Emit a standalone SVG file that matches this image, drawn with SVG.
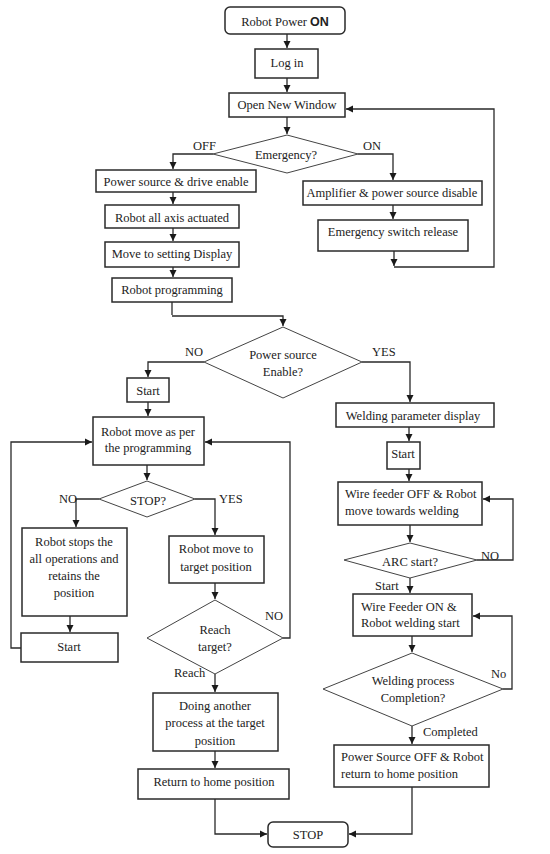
<svg xmlns="http://www.w3.org/2000/svg" width="550" height="854" viewBox="0 0 550 854" font-family="'Liberation Serif', Tinos, 'Times New Roman', 'DejaVu Serif', serif">
<style>
text{font-family:'Liberation Serif',Tinos,'Times New Roman','DejaVu Serif',serif;font-size:12.5px;fill:#222}
.c{text-anchor:middle}
.b{fill:#fff;stroke:#2a2a2a;stroke-width:1.5}
.d{fill:#fff;stroke:#444;stroke-width:1}
.l{fill:none;stroke:#2a2a2a;stroke-width:1.3}
.on{font-family:'Liberation Sans',Arial,sans-serif;font-weight:bold;font-size:12.5px}
</style>
<defs>
<marker id="a" markerWidth="8" markerHeight="8" refX="7" refY="4" orient="auto" markerUnits="userSpaceOnUse">
<path d="M0,0.5 L7,4 L0,7.5 Z" fill="#1a1a1a"/>
</marker>
</defs>
<g id="connectors">
<path class="l" d="M287,34 V48" marker-end="url(#a)"/>
<path class="l" d="M287,78 V92" marker-end="url(#a)"/>
<path class="l" d="M287,117 V134" marker-end="url(#a)"/>
<path class="l" d="M213,154 H173 V169" marker-end="url(#a)"/>
<path class="l" d="M358,154 H393 V180" marker-end="url(#a)"/>
<path class="l" d="M173,192 V204" marker-end="url(#a)"/>
<path class="l" d="M173,228 V241" marker-end="url(#a)"/>
<path class="l" d="M173,267 V277" marker-end="url(#a)"/>
<path class="l" d="M393,205 V219" marker-end="url(#a)"/>
<path class="l" d="M394,251 V266" marker-end="url(#a)"/>
<path class="l" d="M394,267 H494 V109 H346" marker-end="url(#a)"/>
<path class="l" d="M172,302 V315"/>
<path class="l" d="M172,316 H283 V326" marker-end="url(#a)"/>
<path class="l" d="M204,362 H148 V377" marker-end="url(#a)"/>
<path class="l" d="M362,362 H410 V402" marker-end="url(#a)"/>
<path class="l" d="M148,402 V416" marker-end="url(#a)"/>
<path class="l" d="M409,427 V441" marker-end="url(#a)"/>
<path class="l" d="M409,469 V481" marker-end="url(#a)"/>
<path class="l" d="M147,465 V480" marker-end="url(#a)"/>
<path class="l" d="M99,499 H76 V527" marker-end="url(#a)"/>
<path class="l" d="M195,499 H215 V535" marker-end="url(#a)"/>
<path class="l" d="M70,616 V632" marker-end="url(#a)"/>
<path class="l" d="M21,648 H11 V442 H92" marker-end="url(#a)"/>
<path class="l" d="M215,583 V599" marker-end="url(#a)"/>
<path class="l" d="M283,638 H290 V442 H205" marker-end="url(#a)"/>
<path class="l" d="M215,674 V692" marker-end="url(#a)"/>
<path class="l" d="M215,751 V768" marker-end="url(#a)"/>
<path class="l" d="M215,799 V834 H267" marker-end="url(#a)"/>
<path class="l" d="M410,525 V542" marker-end="url(#a)"/>
<path class="l" d="M477,560 H513 V499 H483" marker-end="url(#a)"/>
<path class="l" d="M410,578 V593" marker-end="url(#a)"/>
<path class="l" d="M412,636 V652" marker-end="url(#a)"/>
<path class="l" d="M503,689 H512 V616 H473" marker-end="url(#a)"/>
<path class="l" d="M412,726 V744" marker-end="url(#a)"/>
<path class="l" d="M412,787 V834 H349" marker-end="url(#a)"/>
</g>
<g id="n-power-on"><rect class="b" x="225" y="7" width="120" height="27" rx="5" stroke-width="1"/><text class="c" x="285" y="26">Robot Power <tspan class="on">ON</tspan></text></g>
<g id="n-login"><rect class="b" x="255" y="49" width="63" height="29"/><text class="c" x="287" y="67">Log in</text></g>
<g id="n-open"><rect class="b" x="229" y="93" width="116" height="24"/><text class="c" x="287" y="109">Open New Window</text></g>
<g id="n-emergency"><polygon class="d" points="287,135 358,154 287,173 213,154"/><text class="c" x="286" y="159">Emergency?</text></g>
<text x="193" y="150">OFF</text>
<text x="363" y="150">ON</text>
<g id="n-drive"><rect class="b" x="96" y="170" width="160" height="22"/><text class="c" x="176" y="186">Power source &amp; drive enable</text></g>
<g id="n-axis"><rect class="b" x="105" y="205" width="134" height="23"/><text class="c" x="172" y="222">Robot all axis actuated</text></g>
<g id="n-display"><rect class="b" x="105" y="242" width="134" height="25"/><text class="c" x="172" y="258">Move to setting Display</text></g>
<g id="n-prog"><rect class="b" x="112" y="278" width="120" height="24"/><text class="c" x="172" y="294">Robot programming</text></g>
<g id="n-amp"><rect class="b" x="303" y="181" width="179" height="24"/><text class="c" x="392" y="197">Amplifier &amp; power source disable</text></g>
<g id="n-release"><rect class="b" x="318" y="220" width="150" height="31"/><text class="c" x="393" y="236">Emergency switch release</text></g>
<g id="n-ps-enable"><polygon class="d" points="283,327 362,362 283,398 204,362"/><text class="c" x="283" y="359">Power source</text><text class="c" x="283" y="376">Enable?</text></g>
<text x="185" y="356">NO</text>
<text x="372" y="356">YES</text>
<g id="n-start1"><rect class="b" x="127" y="378" width="42" height="24"/><text class="c" x="148" y="395">Start</text></g>
<g id="n-move"><rect class="b" x="93" y="417" width="111" height="48"/><text class="c" x="148" y="436">Robot move as per</text><text class="c" x="148" y="452">the programming</text></g>
<g id="n-weld-param"><rect class="b" x="336" y="403" width="158" height="24"/><text class="c" x="413" y="420">Welding parameter display</text></g>
<g id="n-start2"><rect class="b" x="387" y="442" width="33" height="27"/><text class="c" x="403" y="458">Start</text></g>
<g id="n-stop-q"><polygon class="d" points="147,481 195,499 147,517 99,499"/><text class="c" x="148" y="505">STOP?</text></g>
<text x="59" y="503">NO</text>
<text x="219" y="503">YES</text>
<g id="n-stops"><rect class="b" x="22" y="528" width="105" height="88"/><text class="c" x="74" y="546">Robot stops the</text><text class="c" x="74" y="563">all operations and</text><text class="c" x="74" y="580">retains the</text><text class="c" x="74" y="597">position</text></g>
<g id="n-start3"><rect class="b" x="21" y="633" width="97" height="29"/><text class="c" x="69" y="651">Start</text></g>
<g id="n-target"><rect class="b" x="169" y="536" width="95" height="47"/><text class="c" x="216" y="553">Robot move to</text><text class="c" x="216" y="571">target position</text></g>
<g id="n-reach"><polygon class="d" points="215,600 283,638 215,674 147,638"/><text class="c" x="215" y="634">Reach</text><text class="c" x="215" y="651">target?</text></g>
<text x="265" y="620">NO</text>
<text x="174" y="677">Reach</text>
<g id="n-another"><rect class="b" x="153" y="693" width="125" height="58"/><text class="c" x="215" y="710">Doing another</text><text class="c" x="215" y="727">process at the target</text><text class="c" x="215" y="745">position</text></g>
<g id="n-home"><rect class="b" x="138" y="769" width="151" height="30"/><text class="c" x="214" y="786">Return to home position</text></g>
<g id="n-wire-off"><rect class="b" x="338" y="482" width="144" height="43"/><text x="345" y="498">Wire feeder OFF &amp; Robot</text><text x="345" y="515">move towards welding</text></g>
<g id="n-arc"><polygon class="d" points="410,543 477,560 410,578 344,560"/><text class="c" x="410" y="566">ARC start?</text></g>
<text x="481" y="560">NO</text>
<text x="375" y="590">Start</text>
<g id="n-wire-on"><rect class="b" x="353" y="594" width="119" height="42"/><text x="361" y="611">Wire Feeder ON &amp;</text><text x="361" y="627">Robot welding start</text></g>
<g id="n-complete"><polygon class="d" points="412,653 503,689 412,726 323,689"/><text class="c" x="413" y="685">Welding process</text><text class="c" x="413" y="702">Completion?</text></g>
<text x="491" y="678">No</text>
<text x="423" y="736">Completed</text>
<g id="n-ps-off"><rect class="b" x="334" y="745" width="155" height="42"/><text x="341" y="761">Power Source OFF &amp; Robot</text><text x="341" y="778">return to home position</text></g>
<g id="n-stop"><rect class="b" x="268" y="822" width="80" height="25" rx="5" stroke-width="1"/><text class="c" x="308" y="839">STOP</text></g>
</svg>
